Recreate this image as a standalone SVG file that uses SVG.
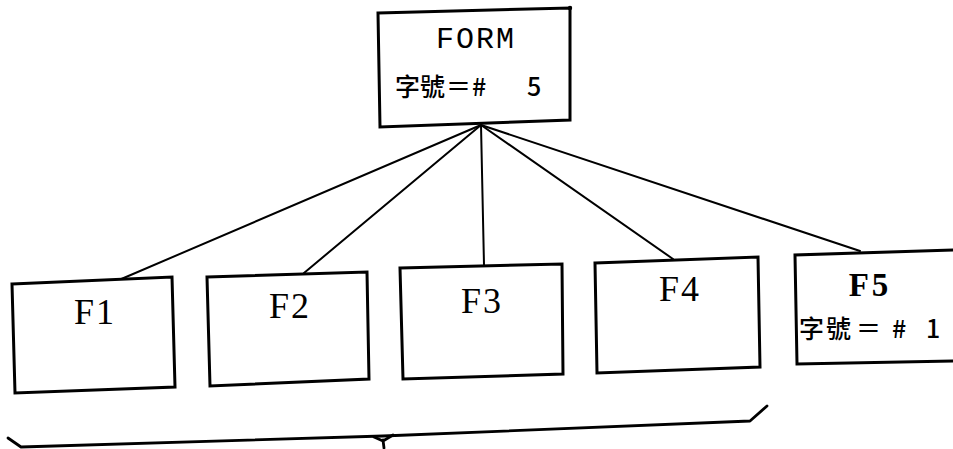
<svg xmlns="http://www.w3.org/2000/svg" width="953" height="449" viewBox="0 0 953 449">
  <style>
    .box { fill: #fff; stroke: #000; stroke-width: 3; stroke-linejoin: miter; }
    .link { fill: none; stroke: #000; stroke-width: 2; stroke-linecap: round; }
    .brace { fill: none; stroke: #000; stroke-width: 2.8; stroke-linecap: round; stroke-linejoin: round; }
    .mono { font-family: "Liberation Mono", "DejaVu Sans Mono", monospace; fill: #000; }
    .serif { font-family: "Liberation Serif", "DejaVu Serif", serif; fill: #000; }
    .cjk { font-family: "Noto Sans CJK TC", "Liberation Serif", sans-serif; font-weight: 500; fill: #000; }
  </style>

  <!-- connectors from the FORM root to each field -->
  <g id="connectors">
    <line class="link" x1="481" y1="125" x2="119" y2="280"/>
    <line class="link" x1="481" y1="125" x2="304" y2="273"/>
    <line class="link" x1="481" y1="125" x2="484" y2="265"/>
    <line class="link" x1="481" y1="125" x2="673" y2="259"/>
    <line class="link" x1="481" y1="125" x2="860" y2="251"/>
  </g>

  <g id="node-form">
    <polygon class="box" points="378,13 570,8 570,120 380,127"/>
    <circle cx="570" cy="8" r="2.2" fill="#000"/>
    <text class="mono" x="476" y="48" font-size="30" letter-spacing="2" text-anchor="middle">FORM</text>
    <text class="cjk" y="96" font-size="25"><tspan x="395">字</tspan><tspan x="420">號</tspan><tspan x="446">＝</tspan><tspan x="472">#</tspan><tspan x="527">5</tspan></text>
  </g>

  <g id="node-f1">
    <polygon class="box" points="12,284 172,277 175,387 15,393"/>
    <text class="serif" x="95" y="324" font-size="36" letter-spacing="2" text-anchor="middle">F1</text>
  </g>

  <g id="node-f2">
    <polygon class="box" points="207,277 367,272 369,379 210,386"/>
    <text class="serif" x="290" y="318" font-size="36" letter-spacing="2" text-anchor="middle">F2</text>
  </g>

  <g id="node-f3">
    <polygon class="box" points="400,268 562,264 563,374 403,379"/>
    <text class="serif" x="482" y="313" font-size="36" letter-spacing="2" text-anchor="middle">F3</text>
  </g>

  <g id="node-f4">
    <polygon class="box" points="595,263 758,257 760,367 597,373"/>
    <text class="serif" x="680" y="301" font-size="36" letter-spacing="2" text-anchor="middle">F4</text>
  </g>

  <g id="node-f5">
    <polyline class="box" points="955,250 795,255 797,364 955,361"/>
    <text class="serif" x="870" y="296" font-size="33" font-weight="bold" letter-spacing="3" text-anchor="middle">F5</text>
    <text class="cjk" y="338" font-size="25"><tspan x="799">字</tspan><tspan x="826">號</tspan><tspan x="856">＝</tspan><tspan x="892">#</tspan><tspan x="926">1</tspan></text>
  </g>

  <!-- brace grouping the fields -->
  <g id="brace">
    <path class="brace" d="M8,438 L21,447 L383,436 L750,421 L767,406"/>
    <path class="brace" d="M374,437 L383,441 L393,435 M383,440 L384,448"/>
  </g>
</svg>
